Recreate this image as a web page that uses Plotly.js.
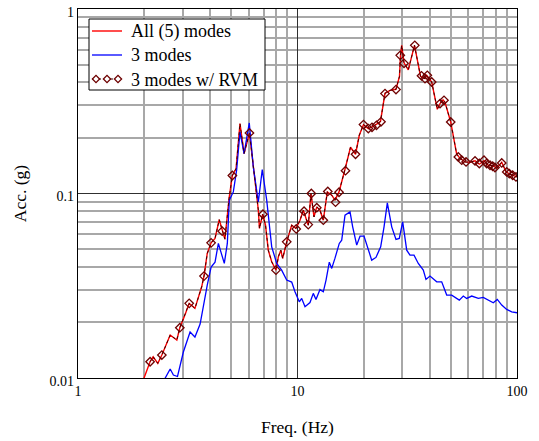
<!DOCTYPE html>
<html>
<head>
<meta charset="utf-8">
<script src="https://cdn.plot.ly/plotly-3.0.1.min.js"></script>
<style>
  html, body { margin: 0; padding: 0; background: #ffffff; }
  #chart { width: 539px; height: 441px; }
</style>
</head>
<body>
<div id="chart"></div>
<script>
// ---- Data ----
const seriesNames = ["All (5) modes", "3 modes", "3 modes w/ RVM"];

// All (5) modes
const redFreq = [1.98, 2.13, 2.20, 2.31, 2.41, 2.63, 2.82, 2.91, 3.07, 3.21, 3.41, 3.66, 3.75, 3.88, 4.04, 4.21, 4.40, 4.54, 4.67, 4.88, 5.05, 5.25, 5.47, 5.71, 6.04, 6.40, 6.63, 6.71, 6.94, 7.15, 7.36, 7.63, 7.98, 8.18, 8.39, 8.56, 8.93, 9.41, 9.84, 10.27, 10.63, 11.20, 11.52, 11.89, 12.24, 12.66, 13.11, 13.67, 14.32, 14.82, 15.46, 16.46, 17.44, 18.38, 19.12, 19.98, 21.02, 22.14, 23.88, 25.04, 26.39, 28.10, 29.15, 29.46, 29.83, 30.56, 31.97, 34.12, 36.35, 38.10, 38.78, 40.87, 43.35, 44.60, 46.03, 46.99, 49.89, 53.12, 55.00, 57.96, 61.08, 64.38, 67.34, 70.74, 73.99, 77.98, 80.82, 85.20, 89.13, 92.93, 100];
const redAcc = [0.0097, 0.01225, 0.01304, 0.01201, 0.01332, 0.01709, 0.01606, 0.01873, 0.02194, 0.02538, 0.02384, 0.03121, 0.03566, 0.04732, 0.05401, 0.05706, 0.07211, 0.0625, 0.05656, 0.09432, 0.1252, 0.1366, 0.2393, 0.1646, 0.2129, 0.1180, 0.0812, 0.06463, 0.07723, 0.06735, 0.04932, 0.04263, 0.03843, 0.04536, 0.04932, 0.04447, 0.05468, 0.06735, 0.06463, 0.07166, 0.0812, 0.06735, 0.1000, 0.07467, 0.08463, 0.0812, 0.07166, 0.1020, 0.0979, 0.0920, 0.1020, 0.1354, 0.1781, 0.1632, 0.2068, 0.2363, 0.2248, 0.2314, 0.2457, 0.3492, 0.3625, 0.3671, 0.4315, 0.5607, 0.6353, 0.5106, 0.4680, 0.6353, 0.4315, 0.4195, 0.4369, 0.4020, 0.2860, 0.3072, 0.3220, 0.3121, 0.2441, 0.1632, 0.1553, 0.1483, 0.1477, 0.1505, 0.1441, 0.1505, 0.1423, 0.1414, 0.1371, 0.1477, 0.1312, 0.1272, 0.1230];

// 3 modes
const blueFreq = [2.44, 2.49, 2.63, 2.72, 2.84, 3.02, 3.24, 3.41, 3.60, 3.88, 4.04, 4.21, 4.36, 4.48, 4.64, 4.79, 4.89, 5.10, 5.28, 5.47, 5.71, 6.03, 6.29, 6.63, 6.91, 7.24, 7.63, 8.04, 8.47, 8.93, 9.41, 9.74, 10.19, 10.45, 10.82, 11.40, 11.80, 12.14, 12.66, 13.11, 13.49, 13.96, 14.32, 14.82, 15.50, 15.90, 16.46, 17.35, 17.84, 18.61, 19.27, 20.09, 20.80, 21.78, 22.78, 23.93, 24.79, 25.66, 26.87, 28.10, 29.09, 30.15, 31.44, 32.54, 33.95, 35.51, 37.42, 38.49, 40.14, 43.08, 45.39, 47.84, 50.41, 52.19, 54.59, 56.94, 58.99, 62.18, 66.65, 70.23, 73.99, 77.98, 81.34, 85.20, 89.78, 94.60, 100];
const blueAcc = [0.00951, 0.00996, 0.01119, 0.01038, 0.01019, 0.01383, 0.01774, 0.01667, 0.01961, 0.03188, 0.03990, 0.04246, 0.05362, 0.04811, 0.04178, 0.05362, 0.0920, 0.1020, 0.1337, 0.2156, 0.1646, 0.2411, 0.1393, 0.09006, 0.1349, 0.0920, 0.05140, 0.04178, 0.03843, 0.03393, 0.03310, 0.02933, 0.02588, 0.02700, 0.02432, 0.02564, 0.02875, 0.02661, 0.03014, 0.02933, 0.03393, 0.04246, 0.03926, 0.04463, 0.05362, 0.05586, 0.07628, 0.07949, 0.06594, 0.05250, 0.05871, 0.05871, 0.05140, 0.04353, 0.04503, 0.05140, 0.06594, 0.08893, 0.06594, 0.05636, 0.05706, 0.07019, 0.04932, 0.04634, 0.04634, 0.04178, 0.03843, 0.03423, 0.03566, 0.03322, 0.03322, 0.02814, 0.02814, 0.02734, 0.02644, 0.02780, 0.02700, 0.02780, 0.02700, 0.02734, 0.02644, 0.02557, 0.02667, 0.02484, 0.02355, 0.02285, 0.02257];

// 3 modes w/ RVM: diamond points (the dashed RVM curve overlays the All-modes curve)
const rvmFreq = [2.13, 2.41, 2.91, 3.21, 3.75, 4.04, 4.54, 5.05, 6.04, 6.96, 7.98, 8.93, 9.87, 10.71, 11.20, 11.56, 12.24, 13.11, 13.74, 14.90, 15.46, 16.54, 18.38, 19.98, 21.02, 21.85, 22.90, 24.01, 25.04, 28.10, 29.39, 30.56, 34.23, 36.72, 38.10, 39.03, 40.87, 44.60, 46.50, 49.89, 54.02, 55.99, 58.59, 64.38, 67.34, 70.74, 72.78, 75.34, 77.50, 79.39, 85.20, 89.78, 92.24, 95.59, 98.95];
const rvmAcc = [0.01225, 0.01332, 0.01873, 0.02538, 0.03566, 0.05401, 0.0625, 0.1252, 0.2129, 0.0772, 0.03843, 0.05468, 0.06423, 0.08019, 0.06778, 0.1000, 0.08379, 0.07166, 0.1026, 0.08972, 0.1016, 0.1329, 0.1632, 0.2363, 0.2248, 0.2285, 0.2343, 0.2447, 0.3479, 0.3657, 0.5607, 0.5075, 0.6353, 0.4343, 0.4195, 0.4369, 0.4020, 0.3072, 0.3200, 0.2441, 0.1578, 0.1515, 0.1483, 0.1502, 0.1454, 0.1515, 0.1454, 0.1423, 0.1405, 0.1383, 0.1464, 0.1309, 0.1283, 0.1256, 0.1230];

// Tick labels
const xTickVals = [1, 10, 100];
const xTickText = ["1", "10", "100"];
const yTickVals = [0.01, 0.1, 1];
const yTickText = ["0.01", "0.1", "1"];

// ---- Styling ----
const serif = "'Liberation Serif', 'Times New Roman', 'DejaVu Serif', serif";
const W = 539, H = 441;
const M = { l: 78, r: 22, t: 9, b: 63 };
const PW = W - M.l - M.r, PH = H - M.t - M.b;
const px = (x) => (x - M.l) / PW;          // pixel -> paper x
const py = (y) => 1 - (y - M.t) / PH;      // pixel -> paper y

const colors = { red: "#ff0000", blue: "#0000ff", rvmLine: "#3a0000", rvmMarker: "#6e0000" };

function minorVals(lo, hi) {
  const v = [];
  for (let e = lo; e < hi; e++) {
    for (let d = 2; d <= 9; d++) v.push(d * Math.pow(10, e));
  }
  return v;
}

const traces = [
  {
    x: redFreq, y: redAcc, name: seriesNames[0], type: "scatter", mode: "lines",
    line: { color: colors.red, width: 1.4 }
  },
  {
    x: blueFreq, y: blueAcc, name: seriesNames[1], type: "scatter", mode: "lines",
    line: { color: colors.blue, width: 1.3 }
  },
  {
    // dashed RVM curve, coincident with the All-modes curve
    x: redFreq.slice(1), y: redAcc.slice(1), name: seriesNames[2], type: "scatter", mode: "lines",
    line: { color: colors.rvmLine, width: 1, dash: "3px,3px" }
  },
  {
    x: rvmFreq, y: rvmAcc, name: seriesNames[2], type: "scatter", mode: "markers",
    marker: { symbol: "diamond-open", size: 6.5, color: colors.rvmMarker, line: { width: 1.3, color: colors.rvmMarker } }
  }
];

// ---- Legend box drawn as decoration (Mathcad style) ----
const legBox = { x0: 89, x1: 265, y0: 19, y1: 90 };
const legRows = [31, 55, 79];
const legLine = { x0: 92, x1: 122 };
const textX = 129;

const shapes = [
  { type: "rect", xref: "paper", yref: "paper", x0: px(legBox.x0), x1: px(legBox.x1), y0: py(legBox.y1), y1: py(legBox.y0),
    line: { color: "#000000", width: 1 }, fillcolor: "#ffffff", layer: "above" },
  { type: "line", xref: "paper", yref: "paper", x0: px(legLine.x0), x1: px(legLine.x1), y0: py(legRows[0]), y1: py(legRows[0]),
    line: { color: colors.red, width: 1.4 }, layer: "above" },
  { type: "line", xref: "paper", yref: "paper", x0: px(legLine.x0), x1: px(legLine.x1), y0: py(legRows[1]), y1: py(legRows[1]),
    line: { color: colors.blue, width: 1.3 }, layer: "above" },
  { type: "line", xref: "paper", yref: "paper", x0: px(legLine.x0), x1: px(legLine.x1), y0: py(legRows[2]), y1: py(legRows[2]),
    line: { color: colors.rvmLine, width: 1, dash: "3px,3px" }, layer: "above" }
];
[96, 107, 118].forEach(function (cx) {
  shapes.push({
    type: "path", xref: "paper", yref: "paper", xsizemode: "pixel", ysizemode: "pixel",
    xanchor: px(cx), yanchor: py(legRows[2]),
    path: "M -3.6 0 L 0 3.6 L 3.6 0 L 0 -3.6 Z",
    line: { color: colors.rvmMarker, width: 1.3 }, fillcolor: "#ffffff", layer: "above"
  });
});

const annotations = seriesNames.map(function (name, i) {
  return {
    text: name, xref: "paper", yref: "paper", x: px(textX), y: py(legRows[i] + 0.5),
    xanchor: "left", yanchor: "middle", showarrow: false,
    font: { family: serif, size: 18, color: "#000000" }
  };
});

const axisCommon = {
  type: "log",
  showgrid: true,
  gridcolor: "#303030",
  gridwidth: 1.5,
  showline: true,
  mirror: true,
  linecolor: "#000000",
  linewidth: 1.2,
  ticks: "",
  zeroline: false,
  tickmode: "array",
  tickfont: { family: serif, size: 14, color: "#000000" },
  automargin: false
};

const layout = {
  width: W,
  height: H,
  margin: M,
  paper_bgcolor: "#ffffff",
  plot_bgcolor: "#ffffff",
  font: { family: serif, color: "#000000" },
  showlegend: false,
  shapes: shapes,
  annotations: annotations,
  xaxis: Object.assign({}, axisCommon, {
    range: [0, 2],
    tickvals: xTickVals, ticktext: xTickText,
    minor: { tickmode: "array", tickvals: minorVals(0, 2), showgrid: true, gridcolor: "#a8a8a8", gridwidth: 2, ticks: "" },
    title: { text: "Freq. (Hz)", font: { family: serif, size: 17.5, color: "#000000" }, standoff: 22 }
  }),
  yaxis: Object.assign({}, axisCommon, {
    range: [-2, 0],
    tickvals: yTickVals, ticktext: yTickText,
    ticklabelshift: 3,
    minor: { tickmode: "array", tickvals: minorVals(-2, 0), showgrid: true, gridcolor: "#a8a8a8", gridwidth: 2, ticks: "" },
    title: { text: "Acc. (g)", font: { family: serif, size: 17.5, color: "#000000" }, standoff: 18 }
  })
};

Plotly.newPlot("chart", traces, layout, { displayModeBar: false, staticPlot: true });
</script>
</body>
</html>
